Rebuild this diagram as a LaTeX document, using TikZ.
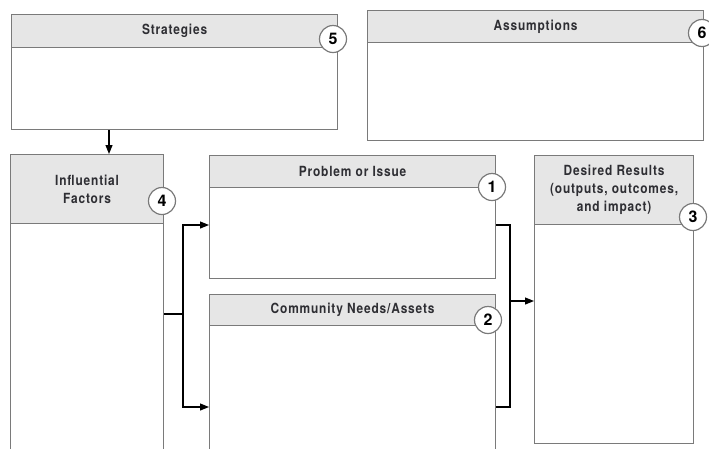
\documentclass[tikz,border=0pt]{standalone}
\usepackage{fontspec}
\newfontfamily\hdrfont[FakeStretch=0.85,LetterSpace=6]{TeX Gyre Heros}
\newfontfamily\numfont{TeX Gyre Heros}
\usetikzlibrary{arrows.meta}
\definecolor{boxline}{HTML}{7A7A7A}
\definecolor{hdrfill}{HTML}{E6E6E6}
\definecolor{hdrtext}{HTML}{2E2E33}
\tikzset{
  bodybox/.style={draw=boxline, line width=1.2pt, fill=white, rectangle, anchor=north west, inner sep=0pt},
  hdrbox/.style={draw=boxline, line width=1.2pt, fill=hdrfill, rectangle, anchor=north west, inner sep=0pt,
     font=\hdrfont\bfseries\fontsize{14}{18}\selectfont, text=hdrtext, align=center},
  numcirc/.style={circle, draw=boxline, line width=1.2pt, fill=white, minimum size=27pt, inner sep=0pt,
     font=\numfont\bfseries\fontsize{16}{16}\selectfont},
  conn/.style={draw=black, line width=1.1pt},
  arr/.style={conn, -{Triangle[length=9pt,width=7pt]}}
}
\begin{document}
\begin{tikzpicture}[x=1pt,y=-1pt]
\useasboundingbox (0,0) rectangle (709,448);
\clip (0,0) rectangle (709,448);
\fill[white] (0,0) rectangle (709,448);
% Strategies
\node[bodybox, minimum width=326pt, minimum height=115pt] (strat) at (11,14) {};
\node[hdrbox, minimum width=326pt, minimum height=33pt] (strath) at (11,14) {Strategies};
\node[numcirc] (n5) at (333,39) {5};
% Assumptions
\node[bodybox, minimum width=336pt, minimum height=130pt] (assum) at (367,10) {};
\node[hdrbox, minimum width=336pt, minimum height=32pt] (assumh) at (367,10) {Assumptions};
\node[numcirc] (n6) at (702,33) {6};
% Influential Factors
\node[bodybox, minimum width=153pt, minimum height=310pt] (infl) at (10,154) {};
\node[hdrbox, minimum width=153pt, minimum height=69pt] (inflh) at (10,154) {Influential\\Factors};
\node[numcirc] (n4) at (162,201) {4};
% Problem or Issue
\node[bodybox, minimum width=286pt, minimum height=123pt] (prob) at (209,155) {};
\node[hdrbox, minimum width=286pt, minimum height=32pt] (probh) at (209,155) {Problem or Issue};
\node[numcirc] (n1) at (492,187) {1};
% Community Needs/Assets
\node[bodybox, minimum width=286pt, minimum height=170pt] (comm) at (209,294) {};
\node[hdrbox, minimum width=286pt, minimum height=31pt] (commh) at (209,294) {Community Needs/Assets};
\node[numcirc] (n2) at (488,320) {2};
% Desired Results
\node[bodybox, minimum width=159pt, minimum height=288pt] (des) at (534,155) {};
\node[hdrbox, minimum width=159pt, minimum height=69pt] (desh) at (534,155) {Desired Results\\(outputs, outcomes,\\and impact)};
\node[numcirc] (n3) at (693,217) {3};
% connectors
\coordinate (jl) at (183,314);
\coordinate (jr) at (510,301);
\draw[arr] (strat.south -| 109,0) -- (infl.north -| 109,0);
\draw[conn] (infl.east |- jl) -- (jl);
\draw[arr] (jl) |- (prob.west |- 0,225);
\draw[arr] (jl) |- (comm.west |- 0,407);
\draw[conn] (prob.east |- 0,225) -| (jr) |- (comm.east |- 0,407);
\draw[arr] (jr) -- (des.west |- jr);
\end{tikzpicture}
\end{document}
